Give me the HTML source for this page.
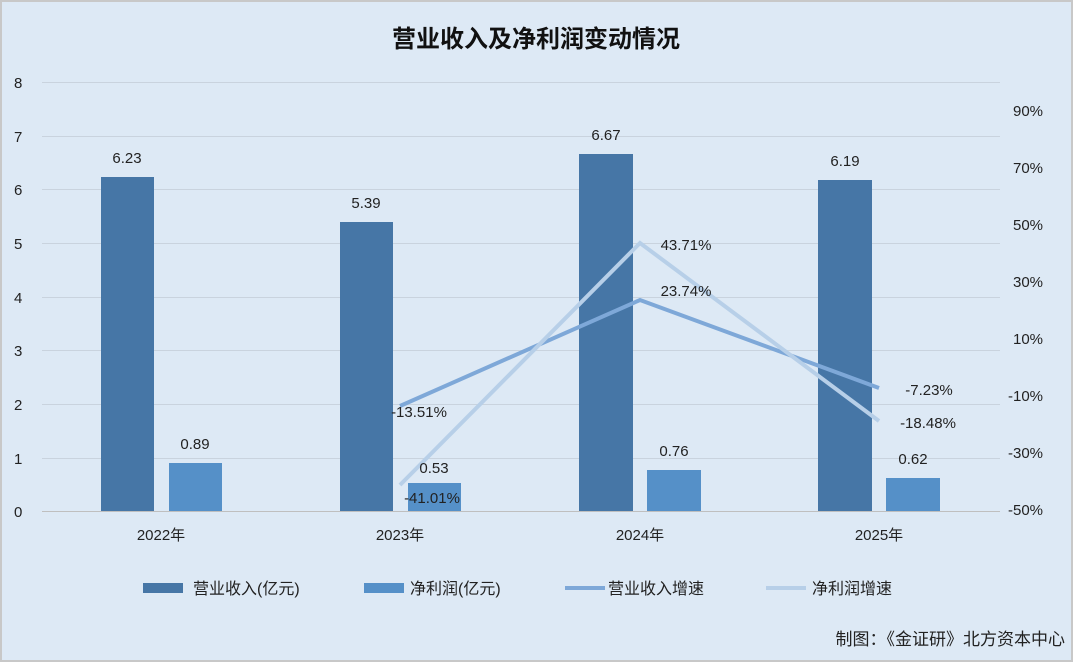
<!DOCTYPE html>
<html><head><meta charset="utf-8"><style>
html,body{margin:0;padding:0;background:#dde9f5;}
svg{display:block;font-family:"Liberation Sans","Noto Sans CJK SC",sans-serif;}
</style></head><body>
<svg width="1073" height="662" viewBox="0 0 1073 662">
<rect x="1" y="1" width="1071" height="660" fill="#dde9f5" stroke="#c8c8c8" stroke-width="2"/>
<text x="536" y="47" text-anchor="middle" font-size="24" font-weight="bold" fill="#111">营业收入及净利润变动情况</text>
<g stroke="#c9d3de" stroke-width="1">
<line x1="42" x2="1000" y1="82.5" y2="82.5"/><line x1="42" x2="1000" y1="136.5" y2="136.5"/>
<line x1="42" x2="1000" y1="189.5" y2="189.5"/><line x1="42" x2="1000" y1="243.5" y2="243.5"/>
<line x1="42" x2="1000" y1="297.5" y2="297.5"/><line x1="42" x2="1000" y1="350.5" y2="350.5"/>
<line x1="42" x2="1000" y1="404.5" y2="404.5"/><line x1="42" x2="1000" y1="458.5" y2="458.5"/>
</g>
<line x1="42" x2="1000" y1="511.5" y2="511.5" stroke="#bfbfbf"/>
<g font-size="15" fill="#222" text-anchor="start">
<text x="14" y="88">8</text><text x="14" y="142">7</text><text x="14" y="195">6</text><text x="14" y="249">5</text>
<text x="14" y="303">4</text><text x="14" y="356">3</text><text x="14" y="410">2</text><text x="14" y="464">1</text><text x="14" y="517">0</text>
</g>
<g font-size="15" fill="#222">
<text x="1013" y="116">90%</text><text x="1013" y="173">70%</text><text x="1013" y="230">50%</text><text x="1013" y="287">30%</text>
<text x="1013" y="344">10%</text><text x="1008" y="401">-10%</text><text x="1008" y="458">-30%</text><text x="1008" y="515">-50%</text>
</g>
<g fill="#4676a6">
<rect x="101" y="177" width="53" height="334"/><rect x="340" y="222" width="53" height="289"/>
<rect x="579" y="154" width="54" height="357"/><rect x="818" y="180" width="54" height="331"/>
</g>
<g fill="#5590c8">
<rect x="169" y="463" width="53" height="48"/><rect x="408" y="483" width="53" height="28"/>
<rect x="647" y="470" width="54" height="41"/><rect x="886" y="478" width="54" height="33"/>
</g>
<polyline points="400,406 640,300 879,388" fill="none" stroke="#7ea8d8" stroke-width="4"/>
<polyline points="400,485 640,243 879,421" fill="none" stroke="#b7cfe8" stroke-width="4"/>
<g font-size="15" fill="#222" text-anchor="middle">
<text x="127" y="163">6.23</text><text x="366" y="208">5.39</text><text x="606" y="140">6.67</text><text x="845" y="166">6.19</text>
<text x="195" y="449">0.89</text><text x="434" y="473">0.53</text><text x="674" y="456">0.76</text><text x="913" y="464">0.62</text>
<text x="419" y="417">-13.51%</text><text x="432" y="503">-41.01%</text>
<text x="686" y="250">43.71%</text><text x="686" y="296">23.74%</text>
<text x="929" y="395">-7.23%</text><text x="928" y="428">-18.48%</text>
<text x="161" y="540">2022年</text><text x="400" y="540">2023年</text><text x="640" y="540">2024年</text><text x="879" y="540">2025年</text>
</g>
<g font-size="16" fill="#222">
<rect x="143" y="583" width="40" height="10" fill="#4676a6"/><text x="193" y="594">营业收入(亿元)</text>
<rect x="364" y="583" width="40" height="10" fill="#5590c8"/><text x="410" y="594">净利润(亿元)</text>
<line x1="565" x2="605" y1="588" y2="588" stroke="#7ea8d8" stroke-width="4"/><text x="608" y="594">营业收入增速</text>
<line x1="766" x2="806" y1="588" y2="588" stroke="#b7cfe8" stroke-width="4"/><text x="812" y="594">净利润增速</text>
</g>
<text x="1065" y="645" text-anchor="end" font-size="17" fill="#222">制图：《金证研》北方资本中心</text>
</svg>
</body></html>
